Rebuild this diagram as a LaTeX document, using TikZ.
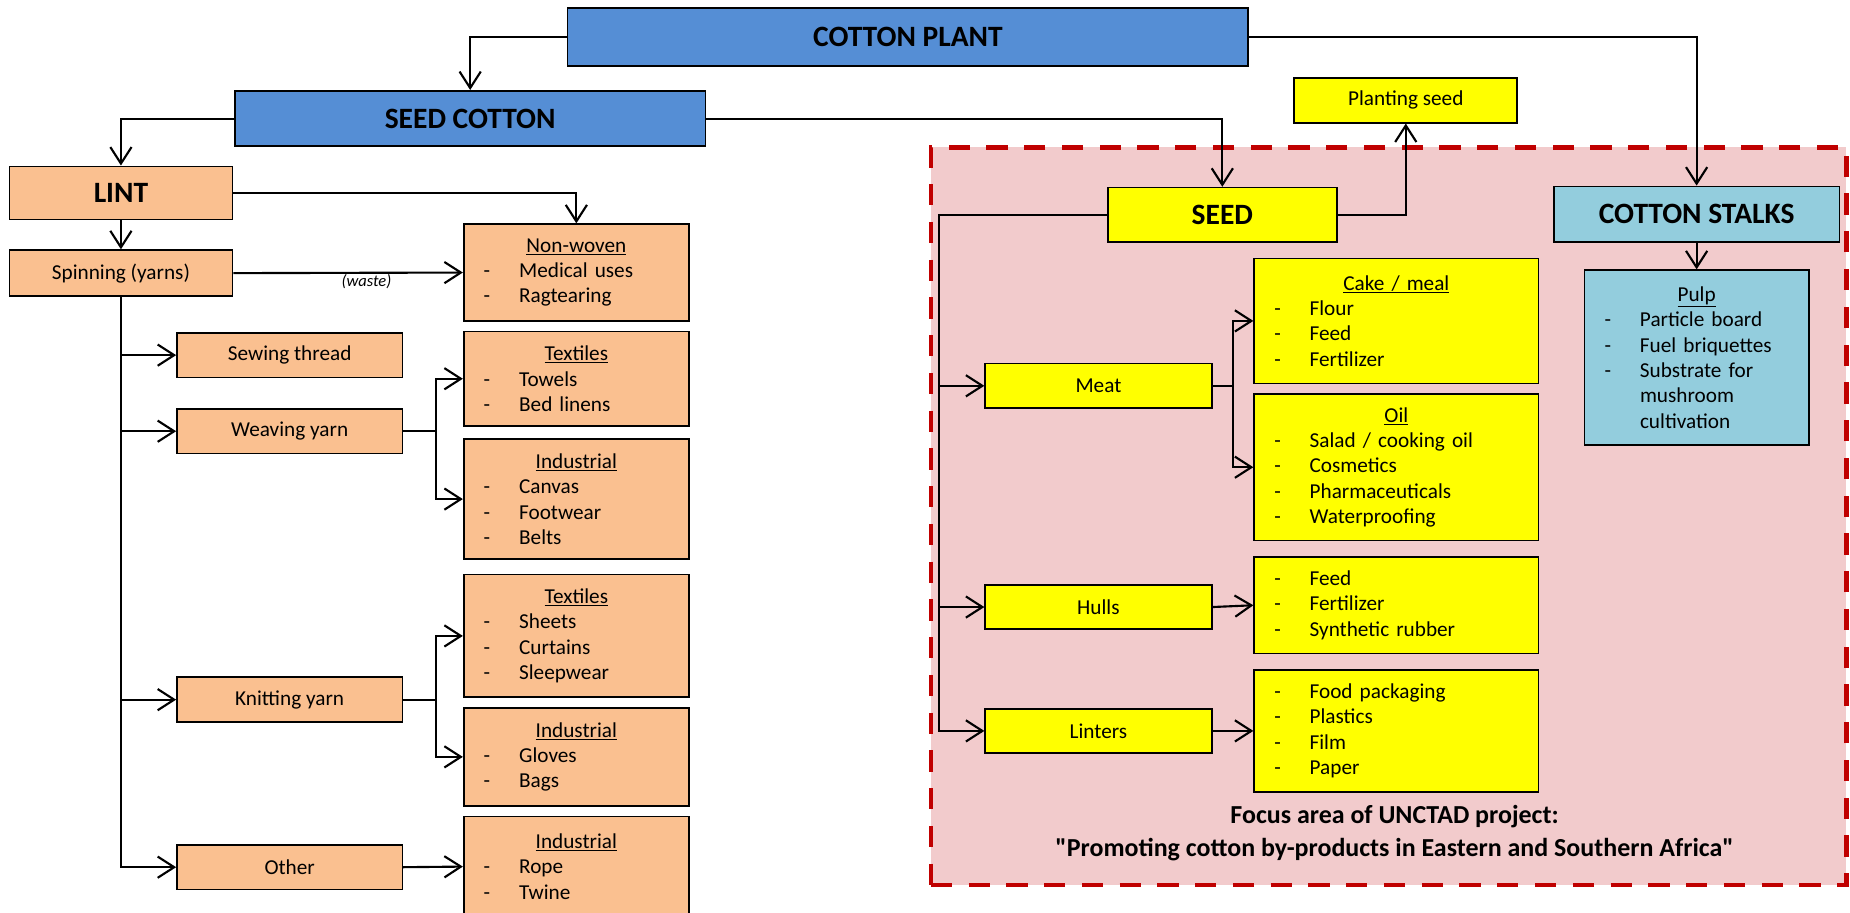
\documentclass[tikz,border=0pt]{standalone}
\usepackage{fontspec}
\setmainfont{Carlito}[Ligatures=TeXOff]
\usetikzlibrary{arrows.meta}
\definecolor{cblue}{HTML}{558ED5}
\definecolor{corange}{HTML}{FAC090}
\definecolor{cyellow}{HTML}{FFFF00}
\definecolor{clblue}{HTML}{93CDDD}
\definecolor{cpink}{HTML}{F2CBCC}
\definecolor{cred}{HTML}{C00000}
\newcommand\bxtitle[1]{\makebox[\hsize][c]{\underline{#1}}}
\newcommand\bxitem[1]{\hspace*{17pt}\makebox[30pt][l]{-}#1}
\newcommand\bxcont[1]{\hspace*{47pt}#1}
\begin{document}
\begin{tikzpicture}[x=1pt,y=-1pt,
  box/.style={draw=black, line width=1.4pt, inner sep=0pt, font=\fontsize{18}{21.5}\selectfont, align=center},
  hdr/.style={box, font=\fontsize{25}{30}\selectfont\bfseries},
  lst/.style={box, align=left},
  arr/.style={line width=1.8pt, -{Straight Barb[length=14pt,width=18pt]}}]
\useasboundingbox (0,0) rectangle (1568,773);
\clip (0,0) rectangle (1568,773);
\fill[white] (0,0) rectangle (1568,773);
% focus region
\node[draw=cred, fill=cpink, line width=3.5pt, dash pattern=on 18pt off 14pt, minimum width=776pt, minimum height=625pt, inner sep=0pt] (focus) at (1177,437.5) {};
\node[font=\fontsize{22}{28}\selectfont\bfseries, align=center, inner sep=0pt] (focustxt) at (1182,706) {Focus area of UNCTAD project:\\"Promoting cotton by-products in Eastern and Southern Africa"};
% top
\node[hdr, fill=cblue, minimum width=577pt, minimum height=49pt] (cp) at (769.5,31.5) {COTTON PLANT};
\node[hdr, fill=cblue, minimum width=399pt, minimum height=47pt] (sc) at (398.5,100.5) {SEED COTTON};
% lint side
\node[hdr, fill=corange, minimum width=189pt, minimum height=45pt] (lint) at (102.5,163.5) {LINT};
\node[box, fill=corange, minimum width=189pt, minimum height=39pt] (spin) at (102.5,231.5) {Spinning (yarns)};
\node[lst, fill=corange, text width=191pt, minimum width=191pt, minimum height=82pt] (nw) at (488.5,231) {\bxtitle{Non-woven}\\\bxitem{Medical uses}\\\bxitem{Ragtearing}};
\node[box, fill=corange, minimum width=191pt, minimum height=38pt] (sew) at (245.5,301) {Sewing thread};
\node[box, fill=corange, minimum width=191pt, minimum height=38pt] (weave) at (245.5,365.5) {Weaving yarn};
\node[box, fill=corange, minimum width=191pt, minimum height=38pt] (knit) at (245.5,593) {Knitting yarn};
\node[box, fill=corange, minimum width=191pt, minimum height=38pt] (other) at (245.5,735) {Other};
\node[lst, fill=corange, text width=191pt, minimum width=191pt, minimum height=80pt] (tex1) at (488.5,321) {\bxtitle{Textiles}\\\bxitem{Towels}\\\bxitem{Bed linens}};
\node[lst, fill=corange, text width=191pt, minimum width=191pt, minimum height=102pt] (ind1) at (488.5,423) {\bxtitle{Industrial}\\\bxitem{Canvas}\\\bxitem{Footwear}\\\bxitem{Belts}};
\node[lst, fill=corange, text width=191pt, minimum width=191pt, minimum height=104pt] (tex2) at (488.5,539) {\bxtitle{Textiles}\\\bxitem{Sheets}\\\bxitem{Curtains}\\\bxitem{Sleepwear}};
\node[lst, fill=corange, text width=191pt, minimum width=191pt, minimum height=83pt] (ind2) at (488.5,641.5) {\bxtitle{Industrial}\\\bxitem{Gloves}\\\bxitem{Bags}};
\node[lst, fill=corange, text width=191pt, minimum width=191pt, minimum height=85pt] (ind3) at (488.5,734.5) {\bxtitle{Industrial}\\\bxitem{Rope}\\\bxitem{Twine}};
% seed side
\node[box, fill=cyellow, minimum width=189pt, minimum height=38pt] (ps) at (1191.5,85) {Planting seed};
\node[hdr, fill=cyellow, minimum width=194pt, minimum height=46pt] (seed) at (1036,182) {SEED};
\node[box, fill=cyellow, minimum width=192pt, minimum height=38pt] (meat) at (931,327) {Meat};
\node[box, fill=cyellow, minimum width=192pt, minimum height=37pt] (hulls) at (931,514.5) {Hulls};
\node[box, fill=cyellow, minimum width=192pt, minimum height=37pt] (linters) at (931,619.5) {Linters};
\node[lst, fill=cyellow, text width=241pt, minimum width=241pt, minimum height=106pt] (cake) at (1183.5,272) {\bxtitle{Cake / meal}\\\bxitem{Flour}\\\bxitem{Feed}\\\bxitem{Fertilizer}};
\node[lst, fill=cyellow, text width=241pt, minimum width=241pt, minimum height=124pt] (oil) at (1183.5,396) {\bxtitle{Oil}\\\bxitem{Salad / cooking oil}\\\bxitem{Cosmetics}\\\bxitem{Pharmaceuticals}\\\bxitem{Waterproofing}};
\node[lst, fill=cyellow, text width=241pt, minimum width=241pt, minimum height=82pt] (hi) at (1183.5,513) {\bxitem{Feed}\\\bxitem{Fertilizer}\\\bxitem{Synthetic rubber}};
\node[lst, fill=cyellow, text width=241pt, minimum width=241pt, minimum height=103pt] (li) at (1183.5,619.5) {\bxitem{Food packaging}\\\bxitem{Plastics}\\\bxitem{Film}\\\bxitem{Paper}};
% stalks
\node[hdr, fill=clblue, minimum width=242pt, minimum height=47pt] (cs) at (1438,181.5) {COTTON STALKS};
\node[lst, fill=clblue, text width=190pt, minimum width=190pt, minimum height=148pt] (pulp) at (1438,303) {\bxtitle{Pulp}\\\bxitem{Particle board}\\\bxitem{Fuel briquettes}\\\bxitem{Substrate for}\\\bxcont{mushroom}\\\bxcont{cultivation}};
% connectors
\draw[arr] (cp.west) -| (sc.north);
\draw[arr] (cp.east) -| (cs.north);
\draw[arr] (sc.west) -| (lint.north);
\draw[arr] (sc.east) -| (seed.north);
\draw[arr] (lint.south) -- (spin.north);
\draw[arr] (lint.east) -| (nw.north);
\draw[arr] (spin.east) -- node[pos=0.58, below, inner sep=0.5pt, font=\fontsize{14}{16}\selectfont\itshape] (waste) {(waste)} (nw.west);
\draw[arr] (spin.south) |- (other.west);
\draw[arr] (spin.south |- sew.west) -- (sew.west);
\draw[arr] (spin.south |- weave.west) -- (weave.west);
\draw[arr] (spin.south |- knit.west) -- (knit.west);
\draw[arr] (weave.east) -- ++(28,0) |- (tex1.west);
\draw[arr] (weave.east) -- ++(28,0) |- (ind1.west);
\draw[arr] (knit.east) -- ++(28,0) |- (tex2.west);
\draw[arr] (knit.east) -- ++(28,0) |- (ind2.west);
\draw[arr] (other.east) -- (ind3.west);
\draw[arr] (seed.east) -| (ps.south);
\coordinate (st) at (796,182);
\draw[arr] (seed.west) -- (st) |- (linters.west);
\draw[arr] (st |- meat.west) -- (meat.west);
\draw[arr] (st |- hulls.west) -- (hulls.west);
\draw[arr] (meat.east) -- ++(17,0) |- (cake.west);
\draw[arr] (meat.east) -- ++(17,0) |- (oil.west);
\draw[arr] (hulls.east) -- (hi.west);
\draw[arr] (linters.east) -- (li.west);
\draw[arr] (cs.south) -- (pulp.north);
\end{tikzpicture}
\end{document}
